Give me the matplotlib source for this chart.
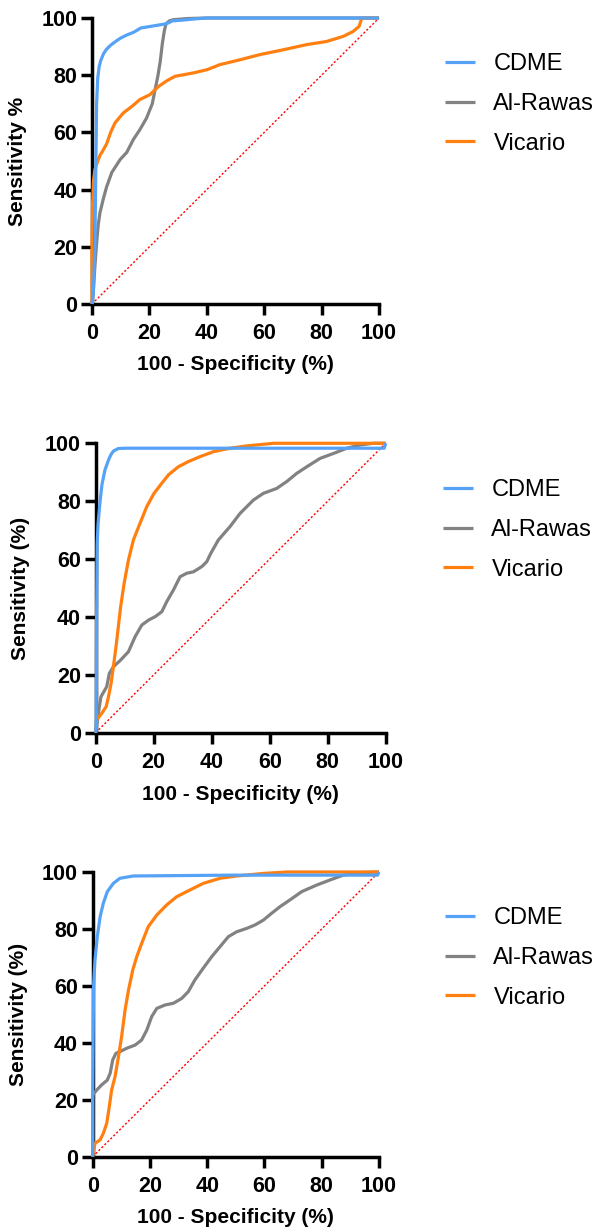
import matplotlib
matplotlib.use("Agg")
import matplotlib.pyplot as plt

plt.rcParams['font.family'] = ['Liberation Sans', 'DejaVu Sans']

series_names = ["CDME", "Al-Rawas", "Vicario"]
series_colors = ["#55A2F6", "#828282", "#FF8010"]

# Panel 1
p1_cdme_x = [0, 0.5, 1.0, 1.3, 1.6, 2.0, 2.5, 3.0, 4.0, 5.0, 6.5, 8.5, 10, 12, 14.5, 17, 20, 23, 26, 28, 32, 36, 40, 100]
p1_cdme_y = [0, 5, 20, 45, 70, 79, 83, 85, 87.5, 89, 90.5, 92, 93, 94, 95, 96.5, 97, 97.5, 98, 99, 99.3, 99.7, 100, 100]
p1_rawas_x = [0, 0.5, 1.0, 1.5, 2.2, 2.8, 4.0, 5.1, 6.9, 9.8, 12.1, 14.4, 16.7, 19, 21, 22, 23, 23.8, 24.5, 25.2, 25.8, 27, 28.3, 33, 40, 100]
p1_rawas_y = [0, 5, 13, 20, 28, 32, 37, 41, 46, 50.5, 53, 57.5, 61, 65, 70, 75, 80, 85, 91, 95.5, 98, 99, 99.4, 99.8, 100, 100]
p1_vic_x = [0, 0, 0.2, 0.5, 1, 2, 2.8, 4, 5.1, 6.5, 8, 10.9, 13.8, 16.7, 20.2, 23.1, 26, 28.9, 35.3, 40, 44.6, 51.6, 58.5, 66.7, 74.8, 81.8, 87.6, 91, 93.1, 94, 100]
p1_vic_y = [0, 20, 35, 43, 47, 50, 52, 54, 56, 60, 63.3, 66.8, 69, 71.5, 73.2, 76, 78, 79.6, 80.8, 81.9, 83.7, 85.4, 87.2, 88.9, 90.7, 91.8, 93.6, 95.3, 97.1, 100, 100]

# Panel 2
p2_cdme_x = [0, 0.2, 0.3, 0.5, 0.8, 1.5, 2.2, 3.2, 4.4, 5.2, 6.1, 7.8, 10, 99.5, 100]
p2_cdme_y = [0, 5, 40, 65, 72, 80, 86, 90.8, 94.2, 96, 97.3, 98.2, 98.3, 98.3, 100]
p2_rawas_x = [0, 0.9, 1.8, 3.8, 4.7, 6.1, 8.6, 11.3, 13.6, 15.9, 18.2, 20.5, 22.8, 24.5, 26.8, 29.1, 31.4, 33.7, 36.6, 38.3, 39.7, 42.3, 46.3, 49.8, 54.4, 57.8, 62.4, 65.9, 69.3, 72.8, 77.4, 82, 86.6, 91.1, 95.7, 100]
p2_rawas_y = [0, 6.7, 12.4, 15.9, 20.5, 22.8, 25.1, 28, 33.2, 37.2, 38.9, 40.1, 41.8, 45.3, 49.3, 53.9, 55.1, 55.6, 57.4, 59.1, 62, 66.6, 71.2, 75.8, 80.4, 82.7, 84.4, 86.8, 89.6, 91.9, 94.8, 96.5, 98.3, 99.4, 100, 100]
p2_vic_x = [0, 0.3, 2.1, 3.6, 4.4, 5.3, 6.1, 7.0, 7.8, 8.6, 9.8, 11.3, 13, 15.3, 17.6, 20.1, 22.8, 25.1, 28.5, 32, 36, 40.6, 46.3, 52.1, 61.3, 100]
p2_vic_y = [0, 4.4, 6.7, 9, 12.4, 17, 22.8, 29.7, 36.6, 43.5, 51.6, 59.7, 66.6, 72.4, 78.1, 82.7, 86.2, 89.1, 91.9, 93.7, 95.4, 97.1, 98.3, 99.1, 100, 100]

# Panel 3
p3_cdme_x = [0, 0, 0.3, 0.8, 1.6, 2.6, 3.7, 5.1, 7.2, 9.5, 14.2, 49, 99.5, 100]
p3_cdme_y = [0, 20, 60, 69.1, 77.3, 84.3, 89, 93.1, 96, 97.8, 98.6, 98.9, 98.9, 100]
p3_rawas_x = [0, 0, 1.4, 3.1, 5.1, 6.1, 7.0, 8.1, 9.5, 11.9, 14.8, 17.1, 18.9, 20.6, 22.4, 25.3, 28.2, 31.1, 33.4, 35.7, 38.6, 41.6, 44.5, 47.4, 50.3, 53.8, 56.7, 59.6, 62.5, 65.4, 68.9, 73, 78.2, 82.9, 87.5, 93.4, 100]
p3_rawas_y = [0, 21.7, 23.4, 25.2, 26.9, 29.3, 34, 36.3, 36.9, 38.1, 39.2, 41, 44.5, 49.2, 52.1, 53.3, 53.9, 55.6, 58, 62.1, 66.2, 70.3, 73.8, 77.3, 79, 80.2, 81.4, 83.1, 85.5, 87.8, 90.2, 93.1, 95.4, 97.2, 98.9, 99.8, 100]
p3_vic_x = [0, 0.8, 2.6, 3.7, 4.9, 5.8, 6.6, 7.8, 9.0, 10.1, 11.3, 12.5, 14, 15.4, 17.1, 19.4, 22.4, 25.8, 29.3, 34, 38.6, 44.5, 50.3, 59.6, 67.8, 100]
p3_vic_y = [0, 4.7, 5.9, 8.2, 11.7, 17.6, 23.4, 28.1, 35.1, 42.2, 51.5, 58.5, 65.6, 70.3, 74.9, 80.8, 84.9, 88.4, 91.3, 93.7, 96, 97.8, 98.6, 99.5, 100, 100]

y_titles = ["Sensitivity %", "Sensitivity (%)", "Sensitivity (%)"]
x_title = "100 - Specificity (%)"
ticks = [0, 20, 40, 60, 80, 100]

panels = [
    [(p1_cdme_x, p1_cdme_y), (p1_rawas_x, p1_rawas_y), (p1_vic_x, p1_vic_y)],
    [(p2_cdme_x, p2_cdme_y), (p2_rawas_x, p2_rawas_y), (p2_vic_x, p2_vic_y)],
    [(p3_cdme_x, p3_cdme_y), (p3_rawas_x, p3_rawas_y), (p3_vic_x, p3_vic_y)],
]

W, H = 597, 1232
fig = plt.figure(figsize=(W / 100, H / 100), dpi=100)

# axes boxes in pixels: x at 0, x at 100, y at 100, y at 0
boxes = [(92, 379, 18, 304), (95.7, 385.7, 443.3, 732.7), (92.7, 379, 872, 1156.7)]
legend_anchor = [(445, 104), (443, 530), (445, 958)]

for i, ((x0, x1, yt, yb), series) in enumerate(zip(boxes, panels)):
    ax = fig.add_axes([x0 / W, 1 - yb / H, (x1 - x0) / W, (yb - yt) / H])
    ax.plot([0, 100], [0, 100], color="#FF0000", lw=1.0, ls=(0, (1.5, 1.5)), zorder=1, clip_on=False)
    order = [1, 2, 0]
    lines = {}
    for k in order:
        xs, ys = series[k]
        ln, = ax.plot(xs, ys, color=series_colors[k], lw=2.3, zorder=3 + (k == 0),
                      clip_on=False, solid_joinstyle="round", solid_capstyle="butt")
        lines[k] = ln
    ax.set_xlim(0, 100)
    ax.set_ylim(0, 100)
    ax.set_xticks(ticks)
    ax.set_yticks(ticks)
    for s in ["top", "right"]:
        ax.spines[s].set_visible(False)
    for s in ["left", "bottom"]:
        ax.spines[s].set_linewidth(2.5)
        ax.spines[s].set_zorder(2)
    ax.tick_params(axis="both", direction="out", length=8, width=2.5, labelsize=15.5)
    ax.tick_params(axis="x", pad=6)
    ax.tick_params(axis="y", pad=2.5)
    for lab in ax.get_xticklabels() + ax.get_yticklabels():
        lab.set_fontweight("bold")
    ax.set_xlabel(x_title, fontsize=15, fontweight="bold")
    ax.set_ylabel(y_titles[i], fontsize=15, fontweight="bold")
    ax.xaxis.set_label_coords(0.5, -0.18)
    ax.yaxis.set_label_coords(-0.225, 0.5)
    lx, ly = legend_anchor[i]
    ax.legend([lines[0], lines[1], lines[2]], series_names, loc="center left",
              bbox_to_anchor=(lx / W, 1 - ly / H), bbox_transform=fig.transFigure,
              frameon=False, fontsize=17, handlelength=1.25, handletextpad=0.8,
              labelspacing=0.75, borderpad=0, borderaxespad=0)

fig.savefig("out.png", dpi=100)
